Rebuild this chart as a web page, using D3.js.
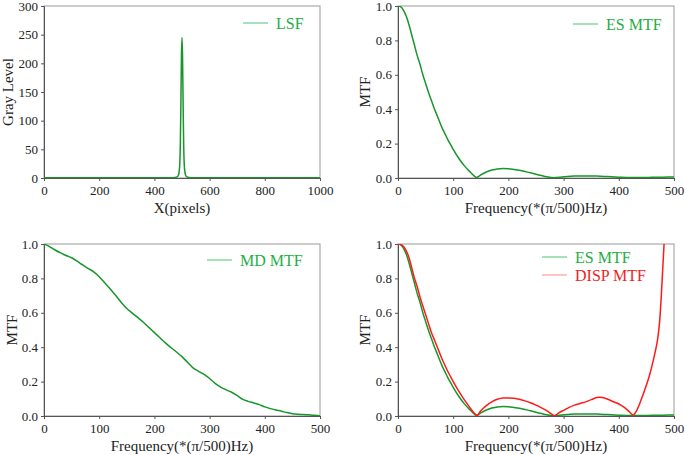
<!DOCTYPE html>
<html>
<head>
<meta charset="utf-8">
<script src="https://cdn.jsdelivr.net/npm/d3@7"></script>
<style>
  body { margin: 0; background: #fff; }
  svg, svg text { font-family: "Liberation Serif", "Times New Roman", Times, "DejaVu Serif", serif !important; }
  svg text { fill: #222; }
</style>
</head>
<body>
<div id="chart"></div>
<script>
// LSF (gray level vs pixel)
const lsfX = [0, 460, 475, 482, 486, 489, 492, 494, 496, 498, 500, 502, 504, 506, 508, 511, 514, 518, 525, 540, 1000];
const lsfY = [0.5, 0.5, 1, 2, 4, 9, 25, 60, 130, 210, 245, 210, 130, 60, 25, 9, 4, 2, 1, 0.5, 0.5];

// ES MTF
const esX = [0, 5, 10, 15, 20, 25, 30, 35, 40, 45, 50, 55, 60, 65, 70, 75, 80, 85, 90, 95, 100, 110, 120, 130, 136, 142,
  146, 150, 160, 170, 180, 190, 200, 210, 220, 230, 240, 250, 260, 270, 282, 300, 320, 340, 360, 380, 400, 420, 440, 460, 480, 500];
const esY = [1.0, 0.995, 0.975, 0.94, 0.89, 0.83, 0.77, 0.71, 0.66, 0.60, 0.55, 0.50, 0.455, 0.41, 0.37, 0.33, 0.29, 0.258, 0.225, 0.195, 0.167, 0.115, 0.072, 0.037, 0.018, 0.003,
  0.009, 0.018, 0.035, 0.046, 0.053, 0.055, 0.054, 0.05, 0.045, 0.038, 0.03, 0.022, 0.014, 0.007, 0.002, 0.007, 0.011, 0.012, 0.011, 0.008, 0.005, 0.003, 0.003, 0.004, 0.005, 0.006];

// DISP MTF
const dispX = [0, 5, 10, 15, 20, 25, 30, 35, 40, 45, 50, 55, 60, 65, 70, 75, 80, 85, 90, 95, 100, 110, 120, 130, 137, 143,
  150, 160, 170, 180, 190, 200, 210, 220, 230, 240, 250, 260, 270, 278, 284, 290, 300, 310, 320, 330, 340, 350, 360, 365, 370, 380,
  390, 400, 410, 418, 426, 432, 440, 450, 455, 460, 465, 470, 474, 477, 480, 482, 484];
const dispY = [1.0, 0.997, 0.985, 0.96, 0.92, 0.86, 0.80, 0.75, 0.69, 0.64, 0.59, 0.54, 0.49, 0.45, 0.41, 0.37, 0.33, 0.295, 0.26, 0.23, 0.20, 0.145, 0.095, 0.05, 0.02, 0.004,
  0.03, 0.06, 0.082, 0.097, 0.104, 0.105, 0.103, 0.097, 0.088, 0.077, 0.063, 0.047, 0.03, 0.012, 0.002, 0.015, 0.033, 0.05, 0.063, 0.073, 0.082, 0.095, 0.107, 0.109, 0.107, 0.097,
  0.083, 0.07, 0.05, 0.028, 0.006, 0.03, 0.09, 0.18, 0.23, 0.29, 0.36, 0.44, 0.55, 0.7, 0.88, 1.0, 1.15];

// MD MTF
const mdX = d3.range(0, 501, 10);
const mdY = [1.0, 0.985, 0.965, 0.948, 0.933, 0.92, 0.90, 0.878, 0.858, 0.838, 0.81, 0.775, 0.738, 0.70, 0.66, 0.625, 0.598, 0.572, 0.545, 0.515, 0.485,
  0.455, 0.425, 0.398, 0.372, 0.345, 0.312, 0.28, 0.26, 0.242, 0.218, 0.19, 0.168, 0.152, 0.138, 0.118, 0.097, 0.085, 0.076, 0.066, 0.053,
  0.043, 0.035, 0.028, 0.02, 0.013, 0.01, 0.009, 0.007, 0.004, 0.001];

const lsfTicksX = [0, 200, 400, 600, 800, 1000];
const lsfTicksY = [0, 50, 100, 150, 200, 250, 300];
const mtfTicksX = [0, 100, 200, 300, 400, 500];
const mtfTicksY = [0, 0.2, 0.4, 0.6, 0.8, 1.0];

const GREEN = "#17962a", GREEN_TXT = "#1fae45", GREEN_LEG = "#4cc472";
const RED = "#ff1a1a", RED_TXT = "#f01e1e", RED_LEG = "#ff8a8a";
const SERIF = "Liberation Serif, Times New Roman, Times, DejaVu Serif, serif";

const svg = d3.select("#chart").append("svg")
  .attr("width", 685).attr("height", 455);

const zip = (xs, ys) => xs.map((x, i) => [x, ys[i]]);

function panel(cfg) {
  const x = d3.scaleLinear().domain(cfg.xDomain).range([cfg.left, cfg.left + 276]);
  const y = d3.scaleLinear().domain(cfg.yDomain).range([cfg.top + 172, cfg.top]);
  const g = svg.append("g");

  const clipId = "clip" + cfg.id;
  g.append("clipPath").attr("id", clipId)
    .append("rect")
    .attr("x", cfg.left).attr("y", cfg.top)
    .attr("width", 276).attr("height", 172);

  // frame
  g.append("rect")
    .attr("x", cfg.left).attr("y", cfg.top)
    .attr("width", 276).attr("height", 172)
    .attr("fill", "none").attr("stroke", "#999").attr("stroke-width", 1);

  const xAxis = g.append("g")
    .attr("transform", `translate(0,${cfg.top + 172})`)
    .call(d3.axisBottom(x).tickValues(cfg.xTicks).tickSize(3).tickPadding(3)
      .tickFormat(cfg.xFmt));
  const yAxis = g.append("g")
    .attr("transform", `translate(${cfg.left},0)`)
    .call(d3.axisLeft(y).tickValues(cfg.yTicks).tickSize(3).tickPadding(3)
      .tickFormat(cfg.yFmt));
  [xAxis, yAxis].forEach(a => {
    a.attr("font-family", SERIF);
    a.select(".domain").attr("stroke", "#555");
    a.selectAll(".tick line").attr("stroke", "#555");
    a.selectAll("text").attr("font-size", "13px").style("font-family", SERIF).attr("fill", "#222");
  });
  xAxis.selectAll("text").attr("dy", "0.85em");

  // axis titles
  g.append("text")
    .attr("x", cfg.left + 138).attr("y", cfg.top + 207)
    .attr("text-anchor", "middle").attr("font-size", "15px")
    .style("font-family", SERIF)
    .text(cfg.xLabel);
  g.append("text")
    .attr("transform", `translate(${cfg.yLabelX},${cfg.top + 86}) rotate(-90)`)
    .attr("text-anchor", "middle").attr("font-size", "15px")
    .style("font-family", SERIF)
    .text(cfg.yLabel);

  const line = d3.line().x(d => x(d[0])).y(d => y(d[1])).curve(d3.curveMonotoneX);

  cfg.series.forEach((s, i) => {
    g.append("path")
      .datum(s.data)
      .attr("clip-path", `url(#${clipId})`)
      .attr("fill", "none")
      .attr("stroke", s.color)
      .attr("stroke-width", 1.5)
      .attr("d", line);

    const ly = cfg.top + cfg.legendY + i * 18;
    g.append("line")
      .attr("x1", cfg.legendX).attr("x2", cfg.legendX + 25)
      .attr("y1", ly).attr("y2", ly)
      .attr("stroke", s.legColor).attr("stroke-width", 1);
    g.append("text")
      .attr("x", cfg.legendX + 33).attr("y", ly)
      .attr("dy", "0.35em")
      .attr("font-size", "16px")
      .style("font-family", SERIF)
      .style("fill", s.txtColor)
      .text(s.name);
  });
}

const fmt1 = d3.format(".1f");

panel({
  id: 1, left: 44, top: 6, xDomain: [0, 1000], yDomain: [0, 300],
  xTicks: lsfTicksX, yTicks: lsfTicksY, xFmt: d3.format("d"), yFmt: d3.format("d"),
  xLabel: "X(pixels)", yLabel: "Gray Level", yLabelX: 13,
  legendX: 243, legendY: 17,
  series: [{ name: "LSF", data: zip(lsfX, lsfY), color: GREEN, legColor: GREEN_LEG, txtColor: GREEN_TXT }]
});

panel({
  id: 2, left: 398, top: 6, xDomain: [0, 500], yDomain: [0, 1],
  xTicks: mtfTicksX, yTicks: mtfTicksY, xFmt: d3.format("d"), yFmt: fmt1,
  xLabel: "Frequency(*(\u03c0/500)Hz)", yLabel: "MTF", yLabelX: 370,
  legendX: 573, legendY: 18,
  series: [{ name: "ES MTF", data: zip(esX, esY), color: GREEN, legColor: GREEN_LEG, txtColor: GREEN_TXT }]
});

panel({
  id: 3, left: 44, top: 244, xDomain: [0, 500], yDomain: [0, 1],
  xTicks: mtfTicksX, yTicks: mtfTicksY, xFmt: d3.format("d"), yFmt: fmt1,
  xLabel: "Frequency(*(\u03c0/500)Hz)", yLabel: "MTF", yLabelX: 17,
  legendX: 207, legendY: 16,
  series: [{ name: "MD MTF", data: zip(mdX, mdY), color: GREEN, legColor: GREEN_LEG, txtColor: GREEN_TXT }]
});

panel({
  id: 4, left: 398, top: 244, xDomain: [0, 500], yDomain: [0, 1],
  xTicks: mtfTicksX, yTicks: mtfTicksY, xFmt: d3.format("d"), yFmt: fmt1,
  xLabel: "Frequency(*(\u03c0/500)Hz)", yLabel: "MTF", yLabelX: 370,
  legendX: 542, legendY: 13,
  series: [
    { name: "ES MTF", data: zip(esX, esY), color: GREEN, legColor: GREEN_LEG, txtColor: GREEN_TXT },
    { name: "DISP MTF", data: zip(dispX, dispY), color: RED, legColor: RED_LEG, txtColor: RED_TXT }
  ]
});
</script>
</body>
</html>
